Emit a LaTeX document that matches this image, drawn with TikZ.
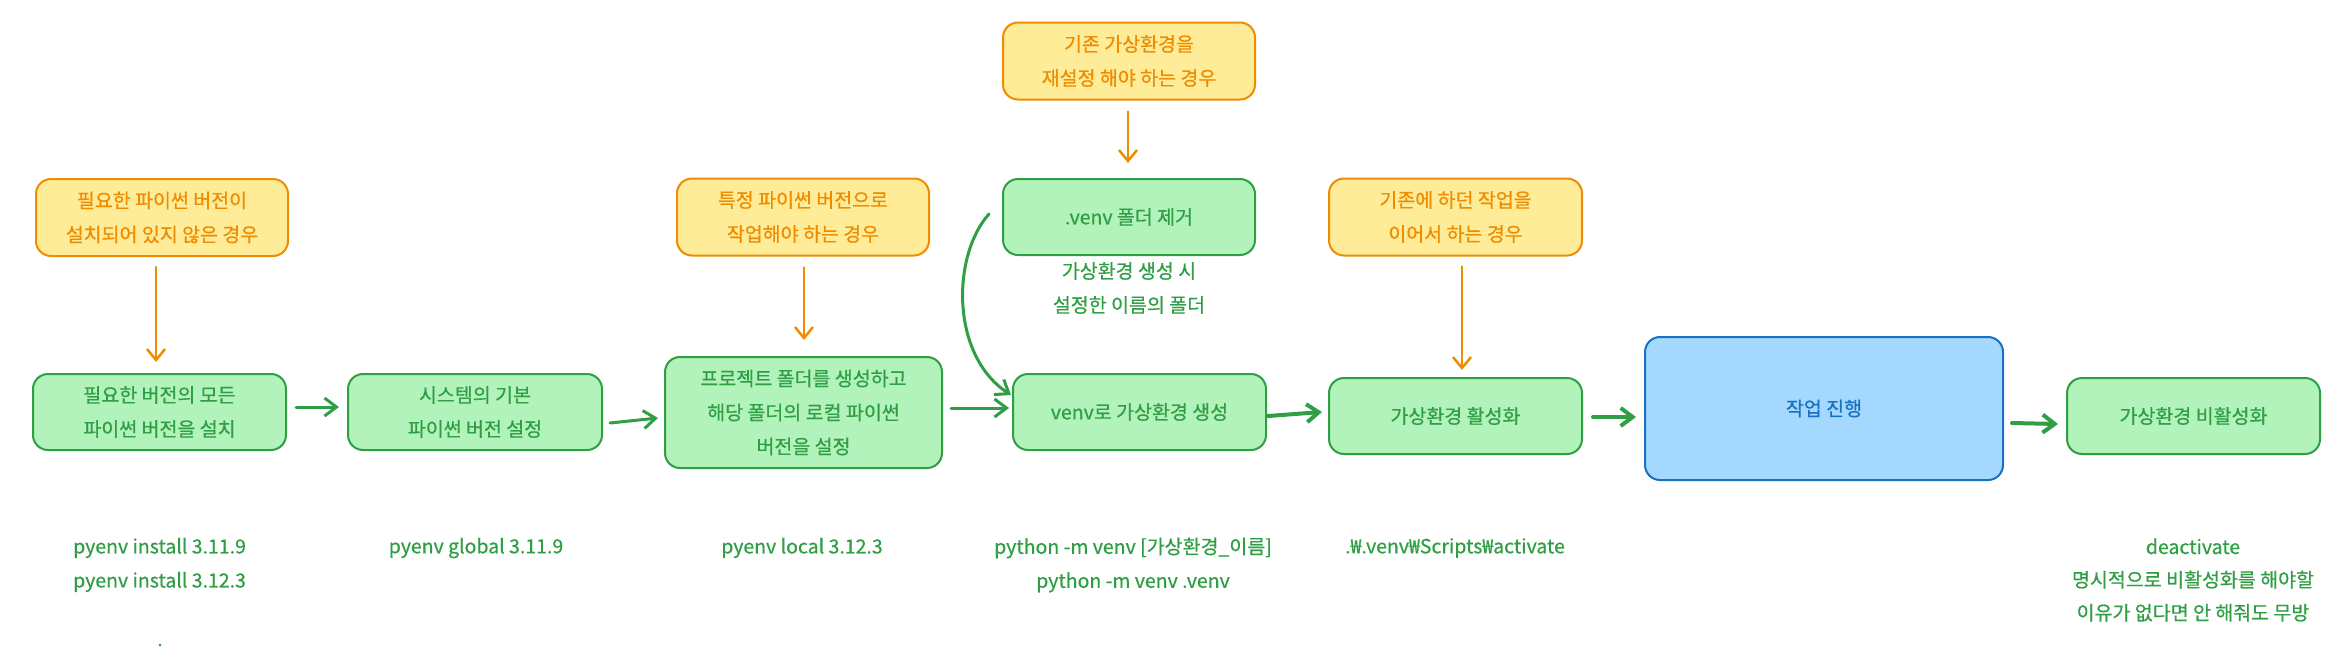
\documentclass[tikz,border=0pt]{standalone}
\usepackage{fontspec}
\setmainfont{Noto Sans CJK KR}[FakeBold=0.6]
\usetikzlibrary{arrows.meta}
\definecolor{ofill}{HTML}{FFEC99}
\definecolor{ostroke}{HTML}{F08C00}
\definecolor{gfill}{HTML}{B2F2BB}
\definecolor{gstroke}{HTML}{2F9E44}
\definecolor{bfill}{HTML}{A5D8FF}
\definecolor{bstroke}{HTML}{1971C2}
\begin{document}
\begin{tikzpicture}[x=1pt,y=-1pt,
 box/.style={rounded corners=15pt, line width=2pt, align=center, inner sep=0pt, font=\fontsize{19.5}{34}\selectfont},
 obox/.style={box, draw=ostroke, fill=ofill, text=ostroke, minimum width=252pt, minimum height=77pt},
 gbox/.style={box, draw=gstroke, fill=gfill, text=gstroke, minimum width=253pt, minimum height=76pt},
 bbox/.style={box, draw=bstroke, fill=bfill, text=bstroke},
 note/.style={text=gstroke, align=center, inner sep=0pt, font=\fontsize{19.5}{34}\selectfont},
 oarrow/.style={draw=ostroke, line width=2.5pt, line cap=round, -{Straight Barb[length=11pt,width=18pt]}},
 garrow/.style={draw=gstroke, line width=3pt, line cap=round, -{Straight Barb[length=12pt,width=18pt]}},
]
\useasboundingbox (0,0) rectangle (2344,656);
% boxes
\node[obox] (o1) at (162,217.5) {필요한 파이썬 버전이\\설치되어 있지 않은 경우};
\node[gbox] (g1) at (159.5,412) {필요한 버전의 모든\\파이썬 버전을 설치};
\node[gbox, minimum width=254pt] (g2) at (475,412) {시스템의 기본\\파이썬 버전 설정};
\node[obox] (o2) at (803,217) {특정 파이썬 버전으로\\작업해야 하는 경우};
\node[gbox, minimum width=277pt, minimum height=111pt] (g3) at (803.5,412.5) {프로젝트 폴더를 생성하고\\해당 폴더의 로컬 파이썬\\버전을 설정};
\node[obox] (o3) at (1129,61) {기존 가상환경을\\재설정 해야 하는 경우};
\node[gbox, minimum width=252pt] (gv0) at (1129,217) {.venv 폴더 제거};
\node[gbox] (gvenv) at (1139.5,412) {venv로 가상환경 생성};
\node[obox, minimum width=253pt] (o4) at (1455.5,217) {기존에 하던 작업을\\이어서 하는 경우};
\node[gbox] (gact) at (1455.5,416) {가상환경 활성화};
\node[bbox, minimum width=358pt, minimum height=143pt] (blue) at (1824,408.5) {\raisebox{-8pt}{작업 진행}};
\node[gbox] (gdeact) at (2193.5,416) {가상환경 비활성화};
% notes
\node[note] (lv0) at (1129,288) {가상환경 생성 시\\설정한 이름의 폴더};
\node[note, align=left, anchor=west] (t1) at (73,565) {pyenv install 3.11.9\\pyenv install 3.12.3};
\node[note] (t2) at (476,548) {pyenv global 3.11.9};
\node[note] (t3) at (802,548) {pyenv local 3.12.3};
\node[note] (t4) at (1133,565) {python -m venv [가상환경\_이름]\\python -m venv .venv};
\node[note] (t5) at (1455,548) {.₩.venv₩Scripts₩activate};
\node[note, font=\fontsize{19.5}{33}\selectfont] (t6) at (2193,580) {deactivate\\명시적으로 비활성화를 해야할\\이유가 없다면 안 해줘도 무방};
\node[circle, fill=gstroke, inner sep=0pt, minimum size=3pt] (dot) at (160,645) {};
% arrows
\draw[oarrow] ([shift={(-6,10)}]o1.south) -- ([shift={(-3.5,-11)}]g1.north);
\draw[oarrow] ([shift={(1,11)}]o2.south) -- ([shift={(0.5,-16)}]g3.north);
\draw[oarrow] ([shift={(-1,11)}]o3.south) -- ([shift={(-1,-15)}]gv0.north);
\draw[oarrow] ([shift={(6.5,10)}]o4.south) -- ([shift={(6.5,-7)}]gact.north);
\draw[garrow] ([shift={(9,-5)}]g1.east) -- ([shift={(-8,-5)}]g2.west);
\draw[garrow] ([shift={(7,11)}]g2.east) -- ([shift={(-6,5.5)}]g3.west);
\draw[garrow] ([shift={(8,-4.5)}]g3.east) -- ([shift={(-3,-4)}]gvenv.west);
\draw[garrow] ([shift={(-13,-3)}]gv0.west) .. controls (952,255) and (950,355) .. ([shift={(-1,-17)}]gvenv.west);
\draw[garrow, line width=4pt] ([shift={(1,4)}]gvenv.east) -- ([shift={(-6,-4)}]gact.west);
\draw[garrow, line width=4pt] ([shift={(10,1)}]gact.east) -- ([shift={(-8,8.5)}]blue.west);
\draw[garrow, line width=4pt] ([shift={(8,14.5)}]blue.east) -- ([shift={(-8,8)}]gdeact.west);
\end{tikzpicture}
\end{document}
